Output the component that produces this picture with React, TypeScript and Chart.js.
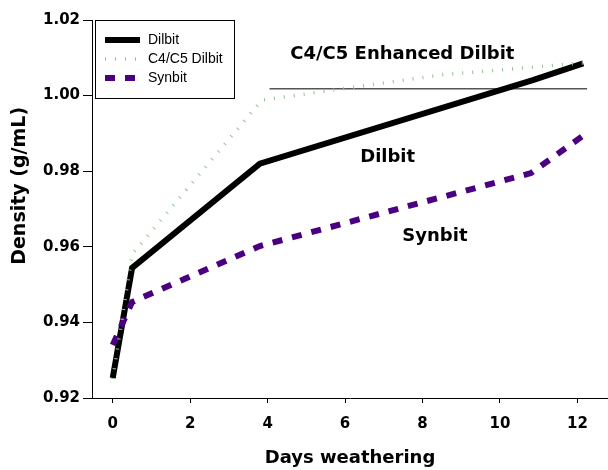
import React, { useEffect, useRef } from "react";
import { Chart, registerables } from "chart.js";

Chart.register(...registerables);

// ---- Data ----
const dilbitDays = [0, 0.5, 3.8, 10.85, 12.15];
const dilbitDensity = [0.9253, 0.9544, 0.982, 1.0041, 1.0085];

const c4c5Days = [0, 0.5, 3.85, 8.5, 12.2];
const c4c5Density = [0.925, 0.958, 0.9988, 1.0055, 1.0087];

const synbitDays = [0, 0.5, 3.8, 10.8, 12.2];
const synbitDensity = [0.934, 0.9454, 0.9602, 0.9795, 0.9898];

const markerDays = [4.05, 12.25];
const markerDensity = [1.0018, 1.0018];

const xTickValues = [0, 2, 4, 6, 8, 10, 12];
const yTickValues = [0.92, 0.94, 0.96, 0.98, 1.0, 1.02];

const seriesNames = ["Dilbit", "C4/C5 Dilbit", "Synbit"];
const annotationTexts = ["C4/C5 Enhanced Dilbit", "Dilbit", "Synbit"];

const toPoints = (xs: number[], ys: number[]) => xs.map((x, i) => ({ x, y: ys[i] }));

const BOLD = '"DejaVu Sans", sans-serif';

const annotationPlugin = {
  id: "textAnnotations",
  afterDatasetsDraw(chart: any) {
    const { ctx, scales } = chart;
    const xs = scales.x;
    const ys = scales.y;
    const items = [
      { text: annotationTexts[0], x: 7.48, y: 1.0109 },
      { text: annotationTexts[1], x: 7.1, y: 0.9838 },
      { text: annotationTexts[2], x: 8.32, y: 0.9628 },
    ];
    ctx.save();
    ctx.font = `bold 18px ${BOLD}`;
    ctx.fillStyle = "#000";
    ctx.textAlign = "center";
    ctx.textBaseline = "middle";
    items.forEach((a) => {
      ctx.fillText(a.text, xs.getPixelForValue(a.x), ys.getPixelForValue(a.y));
    });
    ctx.restore();
  },
};

const boxLegendPlugin = {
  id: "boxLegend",
  afterDraw(chart: any) {
    const { ctx, chartArea } = chart;
    const left = chartArea.left + 3;
    const top = chartArea.top;
    const w = 139;
    const h = 78;
    ctx.save();
    ctx.fillStyle = "#fff";
    ctx.fillRect(left, top, w, h);
    ctx.strokeStyle = "#000";
    ctx.lineWidth = 1;
    ctx.setLineDash([]);
    ctx.strokeRect(left + 0.5, top + 0.5, w, h);
    const rows = [20, 39, 58];
    chart.data.datasets.slice(0, 3).forEach((ds: any, i: number) => {
      const y = top + rows[i];
      ctx.save();
      ctx.strokeStyle = ds.borderColor;
      ctx.lineWidth = ds.borderWidth;
      ctx.setLineDash(ds.borderDash || []);
      ctx.lineCap = "butt";
      ctx.beginPath();
      ctx.moveTo(left + 10, y);
      ctx.lineTo(left + 45, y);
      ctx.stroke();
      ctx.restore();
      ctx.fillStyle = "#000";
      ctx.font = '14px "Liberation Sans", Arial, sans-serif';
      ctx.textAlign = "left";
      ctx.textBaseline = "middle";
      ctx.fillText(ds.label, left + 53, y);
    });
    ctx.restore();
  },
};

export default function App() {
  const canvasRef = useRef<HTMLCanvasElement | null>(null);

  useEffect(() => {
    document.body.style.margin = "0";
    const canvas = canvasRef.current;
    if (!canvas) return;
    const chart = new Chart(canvas, {
      type: "line",
      data: {
        datasets: [
          {
            label: seriesNames[0],
            data: toPoints(dilbitDays, dilbitDensity),
            borderColor: "#000000",
            borderWidth: 6,
            pointRadius: 0,
            tension: 0,
            order: 3,
          },
          {
            label: seriesNames[1],
            data: toPoints(c4c5Days, c4c5Density),
            borderColor: "#93c293",
            borderWidth: 3.5,
            borderDash: [1, 9],
            pointRadius: 0,
            tension: 0,
            order: 1,
          },
          {
            label: seriesNames[2],
            data: toPoints(synbitDays, synbitDensity),
            borderColor: "#4B0082",
            borderWidth: 6,
            borderDash: [10, 10],
            borderCapStyle: "butt",
            pointRadius: 0,
            tension: 0,
            order: 2,
          },
          {
            label: "marker",
            data: toPoints(markerDays, markerDensity),
            borderColor: "#555555",
            borderWidth: 1.5,
            pointRadius: 0,
            tension: 0,
            order: 4,
          },
        ] as any,
      },
      options: {
        animation: false,
        responsive: false,
        devicePixelRatio: 1,
        layout: { padding: { top: 20, left: 0, right: 0, bottom: 0 } },
        plugins: {
          legend: { display: false },
          tooltip: { enabled: false },
        },
        scales: {
          x: {
            type: "linear",
            min: -0.535,
            max: 12.79,
            afterFit: (s: any) => {
              s.height = 72;
            },
            afterBuildTicks: (s: any) => {
              s.ticks = xTickValues.map((v) => ({ value: v }));
            },
            grid: {
              drawOnChartArea: false,
              drawTicks: true,
              tickLength: 5,
              color: "#000",
              lineWidth: 1,
            },
            border: { display: true, color: "#000", width: 1 },
            ticks: {
              padding: 12,
              color: "#000",
              font: { family: BOLD, size: 15, weight: "bold" },
              callback: (v: any) => String(v),
            },
            title: {
              display: true,
              text: "Days weathering",
              color: "#000",
              font: { family: BOLD, size: 18, weight: "bold", lineHeight: 1.2 },
              padding: { top: 0, bottom: 1 },
            },
          },
          y: {
            type: "linear",
            min: 0.92,
            max: 1.02,
            afterFit: (s: any) => {
              s.width = 92;
            },
            afterBuildTicks: (s: any) => {
              s.ticks = yTickValues.map((v) => ({ value: v }));
            },
            grid: {
              drawOnChartArea: false,
              drawTicks: true,
              tickLength: 9,
              color: "#000",
              lineWidth: 1,
            },
            border: { display: true, color: "#000", width: 1 },
            ticks: {
              padding: 3,
              color: "#000",
              font: { family: BOLD, size: 15, weight: "bold" },
              callback: (v: any) => Number(v).toFixed(2),
            },
            title: {
              display: true,
              text: "       Density (g/mL)",
              color: "#000",
              font: { family: BOLD, size: 19, weight: "bold", lineHeight: 1.2 },
              padding: { top: 9, bottom: 0 },
            },
          },
        },
      } as any,
      plugins: [annotationPlugin, boxLegendPlugin],
    });
    return () => chart.destroy();
  }, []);

  return (
    <div style={{ position: "fixed", left: 0, top: 0, width: 608, height: 470, background: "#fff" }}>
      <canvas ref={canvasRef} width={608} height={470} style={{ display: "block" }} />
    </div>
  );
}
